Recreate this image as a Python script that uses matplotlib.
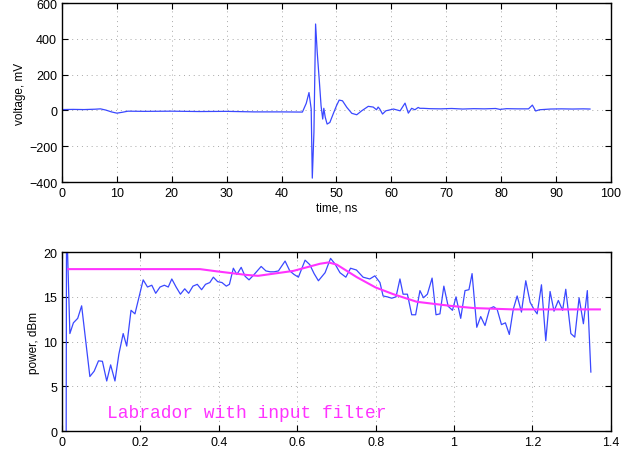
import numpy as np
import matplotlib
matplotlib.use("Agg")
import matplotlib.pyplot as plt


# top panel: voltage trace (ns, mV)
t_ns = [0, 2, 4, 6, 7, 8, 9, 10, 11, 12, 15, 20, 25, 30, 35, 40, 43.8,
        44.5, 45.0, 45.4, 45.6, 45.9, 46.2, 46.5, 46.9, 47.2, 47.5, 47.7,
        47.96, 48.3, 48.8, 49.4, 50.0, 50.5, 51.1, 51.9, 52.8, 53.7, 54.6,
        55.8, 56.7, 57.3, 57.6, 57.9, 58.4, 59.0, 60.4, 61.6, 62.5, 63.1,
        63.7, 64.3, 64.9, 65.2, 65.8, 67.0, 69, 71, 73, 75, 77, 79, 79.8,
        81, 83, 85.0, 85.7, 86.3, 87.0, 89, 91, 93, 95, 96.2]
voltage = [5, 6, 5, 7, 9, 2, -8, -15, -10, -4, -5, -4, -6, -5, -8, -8, -9,
           40, 100, 8, -378, -122, 483, 324, 157, 26, -48, 12,
           -38, -76, -67, -20, 26, 58, 54, 17, -16, -24, -2,
           23, 19, 4, 19, 8, -20, -2, 8, -2, 41, -15,
           12, 4, 17, 12, 12, 10, 9, 11, 8, 10, 9, 11, 6,
           10, 9, 9, 30, -3, 4, 8, 9, 8, 9, 8]

# bottom panel: power spectrum
f = [0.0105, 0.0115, 0.020, 0.029, 0.040, 0.050, 0.071, 0.082, 0.093, 0.103,
     0.114, 0.124, 0.135, 0.145, 0.156, 0.165, 0.176, 0.186, 0.207, 0.218,
     0.229, 0.239, 0.250, 0.261, 0.271, 0.280, 0.291, 0.302, 0.313, 0.323,
     0.334, 0.345, 0.356, 0.366, 0.377, 0.386, 0.397, 0.408, 0.419, 0.427,
     0.437, 0.446, 0.457, 0.467, 0.477, 0.488, 0.508, 0.520, 0.531, 0.541,
     0.552, 0.569, 0.581, 0.592, 0.603, 0.620, 0.632, 0.643, 0.654, 0.671,
     0.685, 0.696, 0.709, 0.724, 0.736, 0.751, 0.768, 0.785, 0.798, 0.811,
     0.819, 0.830, 0.841, 0.852, 0.862, 0.870, 0.881, 0.892, 0.902, 0.913,
     0.922, 0.932, 0.944, 0.954, 0.964, 0.974, 0.985, 0.996, 1.005, 1.017,
     1.028, 1.038, 1.046, 1.058, 1.068, 1.079, 1.091, 1.101, 1.110, 1.121,
     1.131, 1.141, 1.151, 1.161, 1.172, 1.183, 1.194, 1.204, 1.212, 1.223,
     1.234, 1.245, 1.255, 1.266, 1.277, 1.285, 1.298, 1.308, 1.319, 1.330,
     1.340, 1.349]
power = [-2, 24, 10.9, 12.1, 12.6, 14.0, 6.1, 6.7, 7.85, 7.8,
         5.6, 7.4, 5.6, 8.6, 10.9, 9.5, 13.5, 13.1, 16.9, 16.1,
         16.3, 15.4, 16.1, 16.3, 16.1, 17.0, 16.1, 15.3, 15.9, 15.4,
         16.2, 16.4, 15.8, 16.4, 16.6, 17.2, 16.7, 16.6, 16.2, 16.4,
         18.2, 17.5, 18.3, 17.3, 16.9, 17.4, 18.4, 17.9, 17.8, 17.8,
         17.9, 19.0, 17.9, 17.5, 17.2, 19.1, 18.6, 17.6, 16.8, 17.7,
         19.3, 18.7, 17.7, 17.2, 18.2, 18.0, 17.2, 17.0, 17.35, 16.6,
         15.1, 15.0, 14.85, 15.0, 17.0, 15.3, 15.3, 13.0, 13.0, 15.7,
         14.9, 15.3, 17.1, 13.0, 13.1, 16.2, 13.95, 13.5, 15.0, 12.6,
         15.7, 15.8, 17.6, 11.6, 12.8, 11.8, 13.7, 13.9, 13.6, 11.9,
         12.1, 10.8, 13.6, 15.1, 13.3, 16.8, 14.4, 13.6, 13.1, 16.35,
         10.1, 15.6, 13.4, 14.6, 13.5, 15.85, 10.9, 10.5, 14.9, 12.0,
         15.7, 6.6]

# smoothed curve with input filter
f_filt = [0.016, 0.352, 0.395, 0.471, 0.500, 0.590, 0.658, 0.680, 0.701,
          0.752, 0.800, 0.845, 0.905, 0.990, 1.050, 1.150, 1.372]
p_filt = [18.1, 18.1, 17.85, 17.45, 17.35, 17.9, 18.7, 18.85, 18.6,
          17.2, 16.05, 15.3, 14.45, 14.0, 13.75, 13.6, 13.6]

blue = "#3a48ff"
magenta = "#ff33ff"

plt.rcParams["font.family"] = ["Liberation Sans", "DejaVu Sans"]

fig = plt.figure(figsize=(6.33, 4.52), dpi=100)

ax1 = fig.add_axes([0.098, 0.595, 0.867, 0.396])
ax1.plot(t_ns, voltage, color=blue, lw=0.9)
ax1.set_xlim(0, 100)
ax1.set_ylim(-400, 600)
ax1.set_xticks(np.arange(0, 101, 10))
ax1.set_yticks(np.arange(-400, 601, 200))
ax1.set_xlabel("time, ns", fontsize=8.5, labelpad=2)
ax1.set_ylabel("voltage, mV", fontsize=8.5, labelpad=2)

ax2 = fig.add_axes([0.098, 0.044, 0.867, 0.396])
ax2.plot(f, power, color=blue, lw=0.9)
ax2.plot(f_filt, p_filt, color=magenta, lw=1.5)
ax2.set_xlim(0, 1.4)
ax2.set_ylim(0, 20)
ax2.set_xticks([0, 0.2, 0.4, 0.6, 0.8, 1.0, 1.2, 1.4])
ax2.set_xticklabels(["0", "0.2", "0.4", "0.6", "0.8", "1", "1.2", "1.4"])
ax2.set_yticks([0, 5, 10, 15, 20])
ax2.set_ylabel("power, dBm", fontsize=8.5, labelpad=2)
ax2.text(0.115, 2.1, "Labrador with input filter", color=magenta,
         fontsize=12.9, family="Liberation Mono", va="center")

for ax in (ax1, ax2):
    ax.grid(True, color="#a8a8a8", linestyle=(0, (1, 4)), lw=0.7)
    ax.tick_params(direction="in", top=True, right=True, labelsize=9,
                   length=4, width=0.8)
    for s in ax.spines.values():
        s.set_linewidth(1.0)

fig.savefig("out.png", dpi=100)
